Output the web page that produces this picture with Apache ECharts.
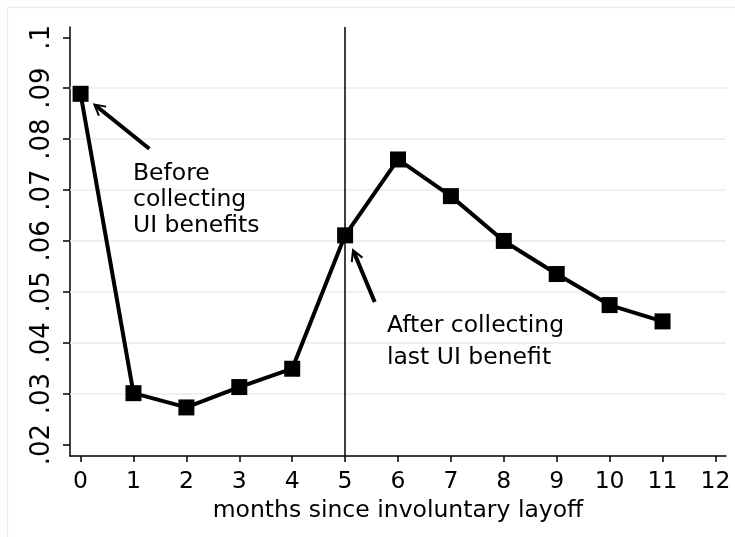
<!DOCTYPE html>
<html>
<head>
<meta charset="utf-8">
<script src="https://cdn.jsdelivr.net/npm/echarts@6/dist/echarts.min.js"></script>
<style>
html,body{margin:0;padding:0;background:#fff;}
#chart{width:735px;height:537px;}
</style>
</head>
<body>
<div id="chart"></div>
<script>
// ---- data ----
const months = [0, 1, 2, 3, 4, 5, 6, 7, 8, 9, 10, 11];
const rate = [0.0889, 0.0301, 0.0273, 0.0313, 0.0349, 0.0611, 0.0760, 0.0688, 0.0600, 0.0535, 0.0474, 0.0442];
const xTickValues = [0, 1, 2, 3, 4, 5, 6, 7, 8, 9, 10, 11, 12];
const yTickValues = [0.02, 0.03, 0.04, 0.05, 0.06, 0.07, 0.08, 0.09, 0.1];
const gridValues = [0.03, 0.04, 0.05, 0.06, 0.07, 0.08, 0.09];
const lastBenefitMonth = 5;
// arrows: [fromX, fromY, toX, toY] in data units
const arrowFromX = [1.30, 5.56];
const arrowFromY = [0.0781, 0.0480];
const arrowToX = [0.26, 5.15];
const arrowToY = [0.0868, 0.0582];
// annotation text (anchor = top-left, data units)
const noteText = ['Before\ncollecting\nUI benefits', 'After collecting\nlast UI benefit'];
const noteX = [0.99, 5.79];
const noteY = [0.0758, 0.0465];
const noteLineHeight = [26.3, 32.4];

const FONT = '"DejaVu Sans", Verdana, sans-serif';
const FS = 23.5;

const chart = echarts.init(document.getElementById('chart'), null, {renderer: 'canvas'});

const points = months.map((m, i) => [m, rate[i]]);
const arrowData = arrowFromX.map((v, i) => [v, arrowFromY[i], arrowToX[i], arrowToY[i]]);
const noteData = noteX.map((v, i) => [v, noteY[i], i]);

const option = {
  backgroundColor: '#ffffff',
  animation: false,
  graphic: [{
    type: 'rect', silent: true, z: -10,
    shape: {x: 7.5, y: 7.5, width: 800, height: 600},
    style: {fill: 'none', stroke: '#e6eef2', lineWidth: 1.5}
  }],
  grid: {left: 70, top: 27, right: 9, bottom: 81, containLabel: false, outerBoundsMode: 'none'},
  xAxis: {
    type: 'value', min: -0.2, max: 12.2,
    name: 'months since involuntary layoff',
    nameLocation: 'middle', nameGap: 37,
    nameTextStyle: {fontFamily: FONT, fontSize: FS, color: '#000'},
    axisLine: {show: true, onZero: false, lineStyle: {color: '#000', width: 1.5}},
    axisTick: {show: true, length: 6, customValues: xTickValues, lineStyle: {color: '#000', width: 1.5}},
    axisLabel: {customValues: xTickValues, margin: 14, fontFamily: FONT, fontSize: FS, color: '#000',
      formatter: v => String(v)},
    splitLine: {show: false}
  },
  yAxis: {
    type: 'value', min: 0.01776, max: 0.10202,
    axisLine: {show: true, onZero: false, lineStyle: {color: '#000', width: 1.5}},
    axisTick: {show: true, length: 7, customValues: yTickValues, lineStyle: {color: '#000', width: 1.5}},
    axisLabel: {customValues: yTickValues, rotate: 90, margin: 15, fontFamily: FONT, fontSize: 26, color: '#000',
      formatter: v => String(+Number(v).toFixed(2)).replace(/^0/, '')},
    splitLine: {show: false}
  },
  series: [
    {
      type: 'line', data: [], z: 0, silent: true,
      markLine: {
        silent: true, symbol: ['none', 'none'], animation: false,
        label: {show: false},
        lineStyle: {color: '#e6eef1', width: 1.5, type: 'solid'},
        data: gridValues.map(v => ({yAxis: v}))
      }
    },
    {
      type: 'line', data: [], z: 1, silent: true,
      markLine: {
        silent: true, symbol: ['none', 'none'], animation: false,
        label: {show: false},
        lineStyle: {color: '#000', width: 1.5, type: 'solid'},
        data: [{xAxis: lastBenefitMonth}]
      }
    },
    {
      type: 'line', data: points, z: 5,
      symbol: 'rect', symbolSize: 16,
      lineStyle: {color: '#000', width: 4},
      itemStyle: {color: '#000'}
    },
    {
      type: 'custom', data: arrowData, z: 6, silent: true,
      renderItem: function (params, api) {
        const p1 = api.coord([api.value(0), api.value(1)]);
        const p2 = api.coord([api.value(2), api.value(3)]);
        const ang = Math.atan2(p2[1] - p1[1], p2[0] - p1[0]);
        const L = 12, a = 0.5;
        const h1 = [p2[0] - L * Math.cos(ang - a), p2[1] - L * Math.sin(ang - a)];
        const h2 = [p2[0] - L * Math.cos(ang + a), p2[1] - L * Math.sin(ang + a)];
        return {
          type: 'group',
          children: [
            {type: 'line', shape: {x1: p1[0], y1: p1[1], x2: p2[0] + 2 * Math.cos(ang + Math.PI), y2: p2[1] + 2 * Math.sin(ang + Math.PI)},
              style: {stroke: '#000', lineWidth: 4}},
            {type: 'polyline', shape: {points: [h1, p2, h2]},
              style: {stroke: '#000', lineWidth: 2, fill: 'none'}}
          ]
        };
      }
    },
    {
      type: 'custom', data: noteData, z: 6, silent: true,
      renderItem: function (params, api) {
        const p = api.coord([api.value(0), api.value(1)]);
        const i = api.value(2);
        return {
          type: 'text', x: p[0], y: p[1],
          style: {text: noteText[i], fontFamily: FONT, fontSize: FS, lineHeight: noteLineHeight[i],
            fill: '#000', align: 'left', verticalAlign: 'top'}
        };
      }
    }
  ]
};
chart.setOption(option);
</script>
</body>
</html>
